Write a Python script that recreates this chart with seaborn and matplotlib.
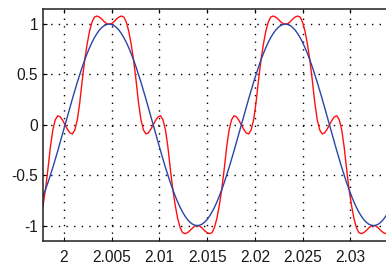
import numpy as np
import matplotlib
matplotlib.use("Agg")
import matplotlib.pyplot as plt
import seaborn as sns

t_first = 1.99755
t_last = 2.03498

blue = [
    -0.766, -0.707, -0.643, -0.574, -0.5, -0.423, -0.342, -0.259, -0.174, -0.087,
    0, 0.087, 0.174, 0.259, 0.342, 0.423, 0.5, 0.574, 0.643, 0.707, 0.766, 0.819, 0.866, 0.906, 0.940, 0.966, 0.985, 0.996,
    1, 0.996, 0.985, 0.966, 0.940, 0.906, 0.866, 0.819, 0.766, 0.707, 0.643, 0.574, 0.5, 0.423, 0.342, 0.259, 0.174, 0.087,
    0, -0.087, -0.174, -0.259, -0.342, -0.423, -0.5, -0.574, -0.643, -0.707, -0.766, -0.819, -0.866, -0.906, -0.940, -0.966, -0.985, -0.996,
    -1, -0.996, -0.985, -0.966, -0.940, -0.906, -0.866, -0.819, -0.766, -0.707, -0.643, -0.574, -0.5, -0.423, -0.342, -0.259, -0.174, -0.087,
    0, 0.087, 0.174, 0.259, 0.342, 0.423, 0.5, 0.574, 0.643, 0.707, 0.766, 0.819, 0.866, 0.906, 0.940, 0.966, 0.985, 0.996,
    1, 0.996, 0.985, 0.966, 0.940, 0.906, 0.866, 0.819, 0.766, 0.707, 0.643, 0.574, 0.5, 0.423, 0.342, 0.259, 0.174, 0.087,
    0, -0.087, -0.174, -0.259, -0.342, -0.423, -0.5, -0.574, -0.643, -0.707, -0.766, -0.819, -0.866, -0.906, -0.940, -0.966, -0.985, -0.996,
    -1, -0.996, -0.985, -0.966, -0.940, -0.906, -0.866, -0.819, -0.766, -0.707, -0.643,
]

red = [
    -0.93, -0.80, -0.64, -0.44, -0.22, -0.05, 0.05, 0.09, 0.08, 0.045,
    0, -0.045, -0.08, -0.09, -0.05, 0.05, 0.22, 0.44, 0.64, 0.80, 0.93, 1.02, 1.07, 1.08, 1.07, 1.05, 1.025, 1.005,
    1.00, 1.005, 1.025, 1.05, 1.07, 1.08, 1.07, 1.02, 0.93, 0.80, 0.64, 0.44, 0.22, 0.05, -0.05, -0.09, -0.08, -0.045,
    0, 0.045, 0.08, 0.09, 0.05, -0.05, -0.22, -0.44, -0.64, -0.80, -0.93, -1.02, -1.07, -1.08, -1.07, -1.05, -1.025, -1.005,
    -1.00, -1.005, -1.025, -1.05, -1.07, -1.08, -1.07, -1.02, -0.93, -0.80, -0.64, -0.44, -0.22, -0.05, 0.05, 0.09, 0.08, 0.045,
    0, -0.045, -0.08, -0.09, -0.05, 0.05, 0.22, 0.44, 0.64, 0.80, 0.93, 1.02, 1.07, 1.08, 1.07, 1.05, 1.025, 1.005,
    1.00, 1.005, 1.025, 1.05, 1.07, 1.08, 1.07, 1.02, 0.93, 0.80, 0.64, 0.44, 0.22, 0.05, -0.05, -0.09, -0.08, -0.045,
    0, 0.045, 0.08, 0.09, 0.05, -0.05, -0.22, -0.44, -0.64, -0.80, -0.93, -1.02, -1.07, -1.08, -1.07, -1.05, -1.025, -1.005,
    -1.00, -1.005, -1.025, -1.05, -1.07, -1.08, -1.07, -1.02, -0.93, -0.80, -0.64,
]

xticks = [2.0, 2.005, 2.01, 2.015, 2.02, 2.025, 2.03]
xlabels = ["2", "2.005", "2.01", "2.015", "2.02", "2.025", "2.03"]
yticks = [-1, -0.5, 0, 0.5, 1]
ylabels = ["-1", "-0.5", "0", "0.5", "1"]

t = np.linspace(t_first, t_last, len(blue))

sns.set_theme(style="white")
plt.rcParams["font.family"] = ["Liberation Sans", "DejaVu Sans"]

fig = plt.figure(figsize=(3.86, 2.67), dpi=100)
ax = fig.add_axes([0.1106, 0.0985, 0.9458, 0.8678])

sns.lineplot(x=t, y=red, ax=ax, color="#ff1010", linewidth=1.0, estimator=None, sort=False)
sns.lineplot(x=t, y=blue, ax=ax, color="#2a45a8", linewidth=1.0, estimator=None, sort=False)

ax.set_xlim(1.99777, 2.036)
ax.set_ylim(-1.15, 1.15)
ax.set_xticks(xticks)
ax.set_xticklabels(xlabels)
ax.set_yticks(yticks)
ax.set_yticklabels(ylabels)

ax.grid(True, color="black", linestyle=(0, (1, 4.5)), linewidth=1.0)
ax.tick_params(axis="both", direction="in", length=3, width=0.8, colors="black",
               labelsize=11.2, labelcolor="#1a1a1a", top=True, right=True, bottom=True, left=True)
ax.tick_params(axis="x", pad=7.0)
ax.tick_params(axis="y", pad=3.4)
for s in ax.spines.values():
    s.set_color("#202020")
    s.set_linewidth(1.1)

fig.savefig("out.png", dpi=100, facecolor="white")
